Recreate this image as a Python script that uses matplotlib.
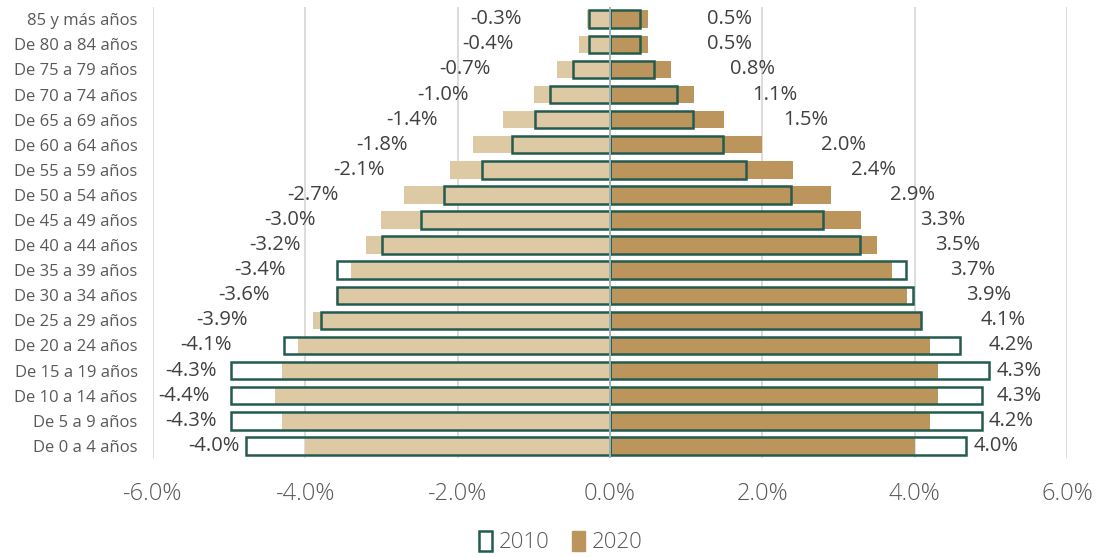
import numpy as np
import matplotlib.pyplot as plt
from matplotlib.patches import Patch

plt.rcParams['font.family'] = ['Open Sans', 'DejaVu Sans']

groups = ['De 0 a 4 años', 'De 5 a 9 años', 'De 10 a 14 años', 'De 15 a 19 años',
          'De 20 a 24 años', 'De 25 a 29 años', 'De 30 a 34 años', 'De 35 a 39 años',
          'De 40 a 44 años', 'De 45 a 49 años', 'De 50 a 54 años', 'De 55 a 59 años',
          'De 60 a 64 años', 'De 65 a 69 años', 'De 70 a 74 años', 'De 75 a 79 años',
          'De 80 a 84 años', '85 y más años']

# 2020 (labelled), percent of total population
women_2020 = [-4.0, -4.3, -4.4, -4.3, -4.1, -3.9, -3.6, -3.4, -3.2, -3.0, -2.7, -2.1,
              -1.8, -1.4, -1.0, -0.7, -0.4, -0.3]
men_2020 = [4.0, 4.2, 4.3, 4.3, 4.2, 4.1, 3.9, 3.7, 3.5, 3.3, 2.9, 2.4,
            2.0, 1.5, 1.1, 0.8, 0.5, 0.5]

# 2010 (outline only)
women_2010 = [-4.78, -4.98, -4.98, -4.98, -4.28, -3.79, -3.58, -3.58, -2.99, -2.48, -2.18, -1.68,
              -1.28, -0.99, -0.79, -0.49, -0.28, -0.28]
men_2010 = [4.67, 4.88, 4.88, 4.98, 4.59, 4.08, 3.98, 3.89, 3.28, 2.80, 2.38, 1.78,
            1.49, 1.09, 0.88, 0.58, 0.39, 0.39]

green = '#235B4E'
gold = '#BC955C'
light_gold = '#DDC9A3'
grey = '#595959'

fig = plt.figure(figsize=(11, 5.57), dpi=100)
ax = fig.add_axes([0.139, 0.177, 0.831, 0.811])

y = np.arange(len(groups))
h = 0.7
ax.barh(y, women_2020, height=h, color=light_gold, zorder=2)
ax.barh(y, men_2020, height=h, color=gold, zorder=2)
ax.barh(y, women_2010, height=h, facecolor='none', edgecolor=green, linewidth=1.8, zorder=3)
ax.barh(y, men_2010, height=h, facecolor='none', edgecolor=green, linewidth=1.8, zorder=3)
ax.axvline(0, color='#a3b5b3', linewidth=1.4, zorder=4)

for i in range(len(groups)):
    ax.text(women_2020[i] - 0.86, y[i], '%.1f%%' % women_2020[i], ha='right', va='center',
            fontsize=14.5, color='#404040')
    ax.text(men_2020[i] + 0.77, y[i], '%.1f%%' % men_2020[i], ha='left', va='center',
            fontsize=14.5, color='#404040')

ax.set_xlim(-6, 6)
ax.set_ylim(-0.5, len(groups) - 0.5)
ax.set_xticks(np.arange(-6, 7, 2))
ax.set_xticklabels(['%.1f%%' % v for v in np.arange(-6, 7, 2)], fontweight='light')
ax.set_yticks(y)
ax.set_yticklabels(groups)
ax.tick_params(axis='y', length=0, pad=11, labelsize=12, labelcolor=grey)
ax.tick_params(axis='x', length=0, pad=17, labelsize=17, labelcolor=grey)
ax.grid(axis='x', color='#d9d9d9', linewidth=1.3, zorder=0)
ax.set_axisbelow(True)
for s in ax.spines.values():
    s.set_visible(False)

handles = [Patch(facecolor='white', edgecolor=green, linewidth=1.8, label='2010'),
           Patch(facecolor=gold, edgecolor=gold, label='2020')]
fig.legend(handles=handles, loc='center', bbox_to_anchor=(0.51, 0.027), ncol=2, frameon=False,
           prop={'size': 16, 'weight': 'light'}, labelcolor=grey, handlelength=0.6,
           handleheight=1.0, handletextpad=0.3, columnspacing=1.0)

fig.savefig('out.png', dpi=100)
